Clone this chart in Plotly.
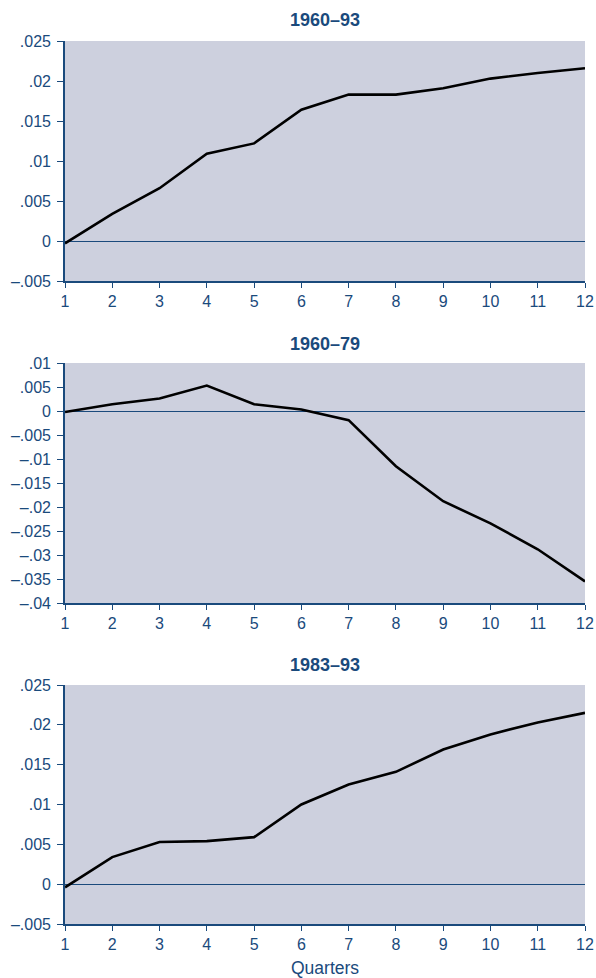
import plotly.graph_objects as go

quarters = list(range(1, 13))
titles = ["1960\u201393", "1960\u201379", "1983\u201393"]
s1 = [-0.0003, 0.0034, 0.0066, 0.0109, 0.0122, 0.0164, 0.0183, 0.0183, 0.0191, 0.0203, 0.0210, 0.0216]
s2 = [-0.0002, 0.0014, 0.0026, 0.0053, 0.0014, 0.0003, -0.0019, -0.0115, -0.0188, -0.0234, -0.0288, -0.0355]
s3 = [-0.0004, 0.0034, 0.0053, 0.0054, 0.0059, 0.0100, 0.0125, 0.0141, 0.0169, 0.0188, 0.0203, 0.0215]

yt1 = [-0.005, 0, 0.005, 0.01, 0.015, 0.02, 0.025]
yl1 = ["\u2013.005", "0", ".005", ".01", ".015", ".02", ".025"]
yt2 = [-0.04, -0.035, -0.03, -0.025, -0.02, -0.015, -0.01, -0.005, 0, 0.005, 0.01]
yl2 = ["\u2013.04", "\u2013.035", "\u2013.03", "\u2013.025", "\u2013.02", "\u2013.015", "\u2013.01", "\u2013.005", "0", ".005", ".01"]
series = [s1, s2, s3]
yticks = [(yt1, yl1), (yt2, yl2), (yt1, yl1)]
ranges = [[-0.005, 0.025], [-0.04, 0.01], [-0.005, 0.025]]

W, H = 596, 978
pix = [(41, 281), (363, 603), (685, 924)]
title_y = [20, 344, 665]
blue = "#1a4a7c"
bg = "#cdd0de"
font = "Liberation Sans, Arial, sans-serif"

fig = go.Figure()
layout = dict(width=W, height=H, paper_bgcolor="white", plot_bgcolor=bg,
              margin=dict(l=65, r=W - 585, t=0, b=0), showlegend=False,
              font=dict(family=font, color=blue, size=16))
annotations = []
for i in range(3):
    n = "" if i == 0 else str(i + 1)
    fig.add_trace(go.Scatter(x=quarters, y=series[i], mode="lines",
                             line=dict(color="black", width=2.6),
                             xaxis="x" + n, yaxis="y" + n, hoverinfo="skip"))
    top, bot = pix[i]
    dom = [1 - bot / H, 1 - top / H]
    layout["xaxis" + n] = dict(domain=[0, 1], range=[1, 12], anchor="y" + n,
                               tickvals=quarters, ticks="outside", ticklen=5,
                               tickwidth=1.3, tickcolor=blue, showline=True,
                               linecolor=blue, linewidth=1.6, showgrid=False,
                               zeroline=False, automargin=False,
                               ticklabeloverflow="allow",
                               tickfont=dict(size=16, color=blue, family=font))
    layout["yaxis" + n] = dict(domain=dom, range=ranges[i], anchor="x" + n,
                               tickvals=yticks[i][0], ticktext=yticks[i][1],
                               ticks="outside", ticklen=6, tickwidth=1.3,
                               ticklabelstandoff=3,
                               tickcolor=blue, showline=True, linecolor=blue,
                               linewidth=1.6, showgrid=False, zeroline=True,
                               zerolinecolor=blue, zerolinewidth=1.3,
                               automargin=False,
                               tickfont=dict(size=16, color=blue, family=font))
    annotations.append(dict(text="<b>" + titles[i] + "</b>", x=0.5, xref="paper",
                            y=1 - title_y[i] / H, yref="paper",
                            yanchor="middle", showarrow=False,
                            font=dict(size=18, color=blue, family=font)))
annotations.append(dict(text="Quarters", x=0.5, xref="paper",
                        y=1 - 968 / H, yref="paper",
                        yanchor="middle", showarrow=False,
                        font=dict(size=17.5, color=blue, family=font)))
layout["annotations"] = annotations
fig.update_layout(**layout)
# place the 596x978 figure flush with the window (no default body margin)
fig.write_html("out.html", config={"displayModeBar": False},
               post_script="document.body.style.margin='0';"
                           "document.documentElement.style.overflow='hidden';")
